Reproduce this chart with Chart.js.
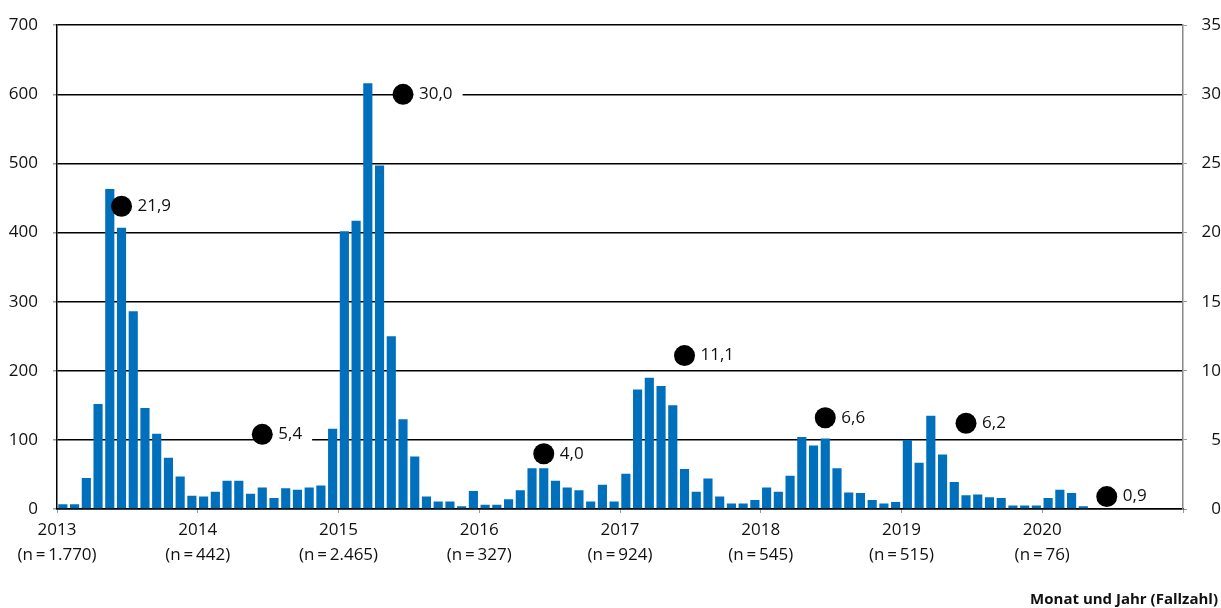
<!DOCTYPE html>
<html>
<head>
<meta charset="utf-8">
<script src="https://cdn.jsdelivr.net/npm/chart.js@4.4.1/dist/chart.umd.min.js"></script>
<style>
  html, body { margin: 0; padding: 0; background: #fff; }
</style>
</head>
<body>
<canvas id="casesChart" width="1221" height="608"></canvas>
<script>
// Years on the x axis and the yearly case count shown under each year
const years = ['2013', '2014', '2015', '2016', '2017', '2018', '2019', '2020'];
const yearCounts = ['1.770', '442', '2.465', '327', '924', '545', '515', '76'];

// Monthly cases (Jan..Dec), left axis
const cases2013 = [7, 7, 45, 152, 463, 407, 286, 146, 109, 74, 47, 19];
const cases2014 = [18, 25, 41, 41, 22, 31, 16, 30, 28, 31, 34, 116];
const cases2015 = [402, 417, 616, 497, 250, 130, 76, 18, 11, 11, 4, 26];
const cases2016 = [6, 6, 14, 27, 59, 59, 41, 31, 27, 11, 35, 11];
const cases2017 = [51, 173, 190, 178, 150, 58, 25, 44, 18, 8, 8, 13];
const cases2018 = [31, 25, 48, 104, 92, 102, 59, 24, 23, 13, 8, 10];
const cases2019 = [100, 67, 135, 79, 39, 20, 21, 17, 16, 5, 5, 5];
const cases2020 = [16, 28, 23, 4, null, null, null, null, null, null, null, null];

// Yearly value shown as black dots, right axis
const yearRate = [21.9, 5.4, 30.0, 4.0, 11.1, 6.6, 6.2, 0.9];

const monthly = [].concat(cases2013, cases2014, cases2015, cases2016,
                          cases2017, cases2018, cases2019, cases2020);

const barData = monthly.map((v, i) => ({ x: i + 0.5, y: v }));
const dotData = yearRate.map((v, i) => ({ x: i * 12 + 5.5, y: v }));

const fontFamily = "'Open Sans', sans-serif";
const labelFont = "17px " + fontFamily;
const fmt = v => v.toFixed(1).replace('.', ',');

Chart.defaults.font.family = fontFamily;
Chart.defaults.font.size = 17;
Chart.defaults.color = '#111';

// value labels next to the dots, with a white box that cuts the grid line
const rateLabels = {
    id: 'rateLabels',
    beforeDatasetsDraw(chart) {
        const ctx = chart.ctx;
        const meta = chart.getDatasetMeta(1);
        ctx.save();
        ctx.font = labelFont;
        ctx.fillStyle = '#fff';
        meta.data.forEach((pt, i) => {
            const w = ctx.measureText(fmt(yearRate[i])).width;
            ctx.fillRect(pt.x, pt.y - 10, 16 + w + 10, 20);
        });
        ctx.restore();
    },
    afterDatasetsDraw(chart) {
        const ctx = chart.ctx;
        const meta = chart.getDatasetMeta(1);
        ctx.save();
        ctx.font = labelFont;
        ctx.fillStyle = '#111';
        ctx.textBaseline = 'middle';
        ctx.textAlign = 'left';
        meta.data.forEach((pt, i) => {
            ctx.fillText(fmt(yearRate[i]), pt.x + 16, pt.y);
        });
        // axis caption bottom right
        ctx.font = "bold 15px " + fontFamily;
        ctx.textAlign = 'right';
        ctx.fillText('Monat und Jahr (Fallzahl)', 1218, 600);
        ctx.restore();
    }
};

new Chart(document.getElementById('casesChart').getContext('2d'), {
    type: 'bar',
    data: {
        datasets: [{
            type: 'bar',
            data: barData,
            backgroundColor: '#0070BD',
            borderWidth: 0,
            barPercentage: 0.78,
            categoryPercentage: 1,
            yAxisID: 'y',
            order: 2
        }, {
            type: 'line',
            data: dotData,
            showLine: false,
            pointRadius: 10.5,
            pointBackgroundColor: '#000',
            pointBorderWidth: 0,
            yAxisID: 'y2',
            order: 1
        }]
    },
    options: {
        responsive: false,
        animation: false,
        layout: { padding: { top: 25, left: 0, right: 0, bottom: 0 } },
        plugins: { legend: { display: false }, tooltip: { enabled: false } },
        scales: {
            x: {
                type: 'linear',
                min: 0,
                max: 96,
                offset: false,
                grid: { offset: false, drawOnChartArea: false, tickColor: '#999', tickLength: 4 },
                border: { color: '#000', width: 1.5 },
                afterFit: s => { s.height = 99; },
                ticks: {
                    stepSize: 12,
                    autoSkip: false,
                    maxRotation: 0,
                    padding: 5,
                    font: { lineHeight: 1.45 },
                    callback: v => {
                        const i = v / 12;
                        if (i >= years.length) return '';
                        return [years[i], '(n\u2009=\u2009' + yearCounts[i] + ')'];
                    }
                }
            },
            y: {
                position: 'left',
                min: 0,
                max: 700,
                grid: { color: '#000', lineWidth: 1.5, tickColor: '#999', tickLength: 4 },
                border: { color: '#000', width: 1.5 },
                afterFit: s => { s.width = 57; },
                ticks: { stepSize: 100, padding: 15 }
            },
            y2: {
                position: 'right',
                min: 0,
                max: 35,
                grid: { drawOnChartArea: false, tickColor: '#999', tickLength: 4 },
                border: { color: '#888', width: 1.5 },
                afterFit: s => { s.width = 38; },
                ticks: { stepSize: 5, padding: 12, crossAlign: 'far' }
            }
        }
    },
    plugins: [rateLabels]
});
</script>
</body>
</html>
